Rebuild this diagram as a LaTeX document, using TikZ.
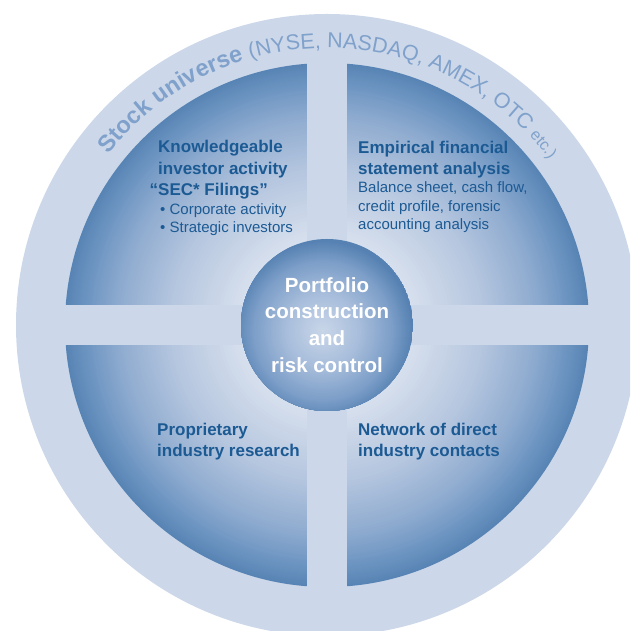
\documentclass[tikz,border=0pt]{standalone}
\usepackage{fontspec}
\setmainfont{Liberation Sans}
\usetikzlibrary{decorations.text}

% palette
\definecolor{ringblue}{HTML}{CCD8E9}
\definecolor{inkblue}{HTML}{1C5A94}
\definecolor{arcblue}{HTML}{80A1CB}
\definecolor{q0}{HTML}{E2E8F2}
\definecolor{q1}{HTML}{D6DFED}
\definecolor{q2}{HTML}{B5C6DF}
\definecolor{q3}{HTML}{8EABCF}
\definecolor{q4}{HTML}{6D95C2}
\definecolor{q5}{HTML}{5784B4}
\definecolor{h0}{HTML}{CAD7E9}
\definecolor{h1}{HTML}{A7BDDB}
\definecolor{h2}{HTML}{7C9EC8}
\definecolor{h3}{HTML}{5682B3}

\tikzset{
  heading/.style={anchor=base west, inner sep=0pt, align=left, text=inkblue,
    font=\fontsize{17}{21.5}\selectfont\bfseries},
  bodytext/.style={anchor=base west, inner sep=0pt, align=left, text=inkblue,
    font=\fontsize{15}{18.6}\selectfont},
  hub/.style={circle, minimum size=172pt, inner sep=0pt,
    text=white, align=center, font=\fontsize{20.5}{26.7}\selectfont\bfseries},
}

\begin{document}
\begin{tikzpicture}[x=1pt, y=1pt]
  \useasboundingbox (0,0) rectangle (630,631);
  \clip (0,0) rectangle (630,631);
  \coordinate (C) at (327,306);
  \coordinate (H) at (323,300);

  % outer ring
  \fill[ringblue] (C) circle (311);

  % inner disc: radial blend built from concentric discs, dark rim to light middle
  \foreach \ro/\ri/\co/\ci in {262/241/q5/q4, 241/210/q4/q3, 210/157/q3/q2,
                               157/89/q2/q1, 89/0/q1/q0} {
    \foreach \k in {0,...,20} {
      \pgfmathsetmacro\rr{\ro-(\ro-\ri)*\k/20}
      \pgfmathtruncatemacro\pp{5*\k}
      \fill[\ci!\pp!\co] (C) circle (\rr);
    }
  }

  % the cross that splits the disc into quadrants
  \fill[ringblue, shift={(C)}] (-20,-266) rectangle (20,266);
  \fill[ringblue, shift={(C)}] (-266,-20) rectangle (266,20);

  % hub blend, brightest slightly below left of its middle
  \begin{scope}
    \clip (C) circle (86);
    \fill[h3] (C) circle (86);
    \foreach \ro/\ri/\co/\ci in {90/70/h3/h2, 70/38/h2/h1, 38/0/h1/h0} {
      \foreach \k in {0,...,20} {
        \pgfmathsetmacro\rr{\ro-(\ro-\ri)*\k/20}
        \pgfmathtruncatemacro\pp{5*\k}
        \fill[\ci!\pp!\co] (H) circle (\rr);
      }
    }
  \end{scope}

  % lettering along the ring
  \path[decorate, decoration={text along path, text color=arcblue,
      text={|\fontsize{23.5}{27}\selectfont\bfseries|Stock universe |\fontsize{21.5}{24}\selectfont\mdseries|(NYSE, NASDAQ, AMEX, OTC |\fontsize{16}{18}\selectfont\mdseries|etc.)}}]
    ([shift={(142:277)}]C) arc[start angle=142, end angle=20, radius=277];

  % hub
  \node[hub] (hub) at (C) {Portfolio\\construction\\and\\risk control};

  % top left quadrant (nodes sit on the baseline of their last line)
  \node[heading] (kia) at (158,435) {Knowledgeable\\investor activity\\\llap{“}SEC* Filings”};
  \node[bodytext] (kib) at (160,398) {\textbullet\ Corporate activity\\\textbullet\ Strategic investors};

  % top right quadrant
  \node[heading] (efa) at (358,456) {Empirical financial\\statement analysis};
  \node[bodytext] (efb) at (358,401) {Balance sheet, cash flow,\\credit profile, forensic\\accounting analysis};

  % bottom quadrants
  \node[heading] (pir) at (157,174) {Proprietary\\industry research};
  \node[heading] (ndc) at (358,174) {Network of direct\\industry contacts};
\end{tikzpicture}
\end{document}
